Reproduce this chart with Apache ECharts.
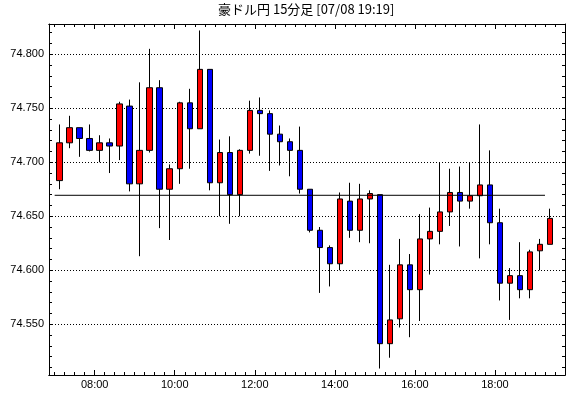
<!DOCTYPE html>
<html>
<head>
<meta charset="utf-8">
<script src="https://cdn.jsdelivr.net/npm/echarts@6/dist/echarts.min.js"></script>
<style>
html,body{margin:0;padding:0;background:#fff;}
#c{width:570px;height:398px;}
</style>
</head>
<body>
<div id="c"></div>
<script>
// ---- data (15-minute candles, 07/08) ----
var times = ['07:00','07:15','07:30','07:45','08:00','08:15','08:30','08:45','09:00','09:15',
             '09:30','09:45','10:00','10:15','10:30','10:45','11:00','11:15','11:30','11:45',
             '12:00','12:15','12:30','12:45','13:00','13:15','13:30','13:45','14:00','14:15',
             '14:30','14:45','15:00','15:15','15:30','15:45','16:00','16:15','16:30','16:45',
             '17:00','17:15','17:30','17:45','18:00','18:15','18:30','18:45','19:00','19:15'];
var openV  = [74.683,74.718,74.732,74.722,74.711,74.718,74.715,74.752,74.680,74.711,
              74.769,74.675,74.694,74.755,74.731,74.786,74.681,74.709,74.670,74.711,
              74.748,74.745,74.726,74.719,74.711,74.675,74.637,74.621,74.606,74.664,
              74.637,74.666,74.670,74.532,74.555,74.605,74.582,74.629,74.636,74.654,
              74.672,74.664,74.669,74.679,74.644,74.588,74.595,74.582,74.618,74.624];
var closeV = [74.718,74.732,74.722,74.711,74.718,74.715,74.754,74.680,74.711,74.769,
              74.675,74.694,74.755,74.731,74.786,74.681,74.709,74.670,74.711,74.748,
              74.745,74.726,74.719,74.711,74.675,74.637,74.621,74.606,74.666,74.637,
              74.666,74.671,74.532,74.554,74.605,74.582,74.629,74.636,74.654,74.672,
              74.664,74.669,74.679,74.644,74.588,74.595,74.582,74.617,74.624,74.648];
var lowV   = [74.675,74.713,74.705,74.710,74.700,74.690,74.702,74.673,74.613,74.709,
              74.639,74.628,74.680,74.694,74.731,74.674,74.650,74.643,74.650,74.708,
              74.706,74.692,74.697,74.687,74.671,74.635,74.579,74.585,74.600,74.630,
              74.626,74.625,74.509,74.519,74.547,74.538,74.553,74.596,74.624,74.641,
              74.622,74.657,74.611,74.624,74.572,74.554,74.574,74.574,74.600,74.624];
var highV  = [74.735,74.743,74.732,74.735,74.725,74.722,74.756,74.758,74.774,74.805,
              74.776,74.698,74.756,74.768,74.822,74.786,74.721,74.724,74.712,74.757,
              74.760,74.748,74.734,74.722,74.733,74.675,74.640,74.623,74.672,74.681,
              74.680,74.674,74.670,74.605,74.629,74.615,74.652,74.658,74.700,74.694,
              74.696,74.700,74.735,74.711,74.657,74.602,74.626,74.619,74.629,74.657];
var refLevel = 74.6694;              // horizontal reference line
var refFrom = '07:00', refTo = '19:15';
var yMajor = [74.55,74.60,74.65,74.70,74.75,74.80];
var yMinor = [74.51,74.52,74.53,74.54,74.55,74.56,74.57,74.58,74.59,74.60,
              74.61,74.62,74.63,74.64,74.65,74.66,74.67,74.68,74.69,74.70,
              74.71,74.72,74.73,74.74,74.75,74.76,74.77,74.78,74.79,74.80,74.81,74.82];
var xMajorLabels = ['08:00','10:00','12:00','14:00','16:00','18:00'];
var titleText = '豪ドル円 15分足 [07/08 19:19]';

// ---- helpers ----
function toMin(s){var p=s.split(':');return (+p[0])*60+(+p[1]);}
function fmt(m){var h=Math.floor(m/60),mm=Math.round(m%60);return (h<10?'0':'')+h+':'+(mm<10?'0':'')+mm;}
var xMajor = xMajorLabels.map(toMin);
var xMinor = [];
for (var t = toMin(times[0]); t <= toMin('19:30'); t += 15) xMinor.push(t);
var XMIN = 411.5, XMAX = 1185, YMIN = 74.503, YMAX = 74.828;

var candles = times.map(function(s,i){
  return [toMin(s)+7.5, openV[i], closeV[i], lowV[i], highV[i]];
});

var black = '#000';
function xAx(pos, ticks, len, labels){
  return {
    type:'value', position:pos, min:XMIN, max:XMAX,
    axisLine:{show:true, onZero:false, lineStyle:{color:black,width:1}},
    axisTick:{show:true, inside:true, length:len, customValues:ticks, lineStyle:{color:black,width:1}},
    axisLabel: labels ? {show:true, customValues:xMajor, formatter:function(v){return fmt(v);},
      color:black, fontSize:11, fontFamily:'Liberation Sans', margin:4} : {show:false},
    splitLine:{show:false}
  };
}
function yAx(pos, labels){
  return {
    type:'value', position:pos, min:YMIN, max:YMAX,
    axisLine:{show:true, onZero:false, lineStyle:{color:black,width:1}},
    axisTick:{show:true, inside:true, length:3, customValues:yMinor, lineStyle:{color:black,width:1}},
    axisLabel: labels ? {show:true, customValues:yMajor, formatter:function(v){return v.toFixed(3);},
      color:black, fontSize:11, fontFamily:'Liberation Sans', margin:5} : {show:false},
    splitLine:{show:false}
  };
}

var chart = echarts.init(document.getElementById('c'), null, {renderer:'canvas'});
chart.setOption({
  backgroundColor:'#fff',
  animation:false,
  title:{text:titleText, left:218, top:3, padding:0,
    textStyle:{fontSize:13, fontWeight:'normal', color:black, fontFamily:'Noto Sans CJK JP'}},
  grid:{left:49, right:5, top:24, bottom:23, containLabel:false},
  xAxis:[
    xAx('bottom', xMajor, 5, true),
    xAx('bottom', xMinor, 3, false),
    xAx('top', xMajor, 5, false),
    xAx('top', xMinor, 3, false)
  ],
  yAxis:[
    yAx('left', true),
    yAx('right', false),
    {type:'value', position:'left', min:YMIN, max:YMAX,
     axisLine:{show:false}, axisTick:{show:false, customValues:yMajor}, axisLabel:{show:false},
     splitLine:{show:true, lineStyle:{color:black, width:1, type:[1,2]}}}
  ],
  series:[
    {type:'candlestick', xAxisIndex:0, yAxisIndex:0, data:candles, barWidth:6,
     itemStyle:{color:'#ff0000', color0:'#0000ff', borderColor:black, borderColor0:black, borderWidth:1},
     z:2},
    {type:'line', xAxisIndex:0, yAxisIndex:0, symbol:'none', z:3,
     data:[[toMin(refFrom), refLevel],[toMin(refTo), refLevel]],
     lineStyle:{color:black, width:1}}
  ]
});
</script>
</body>
</html>
